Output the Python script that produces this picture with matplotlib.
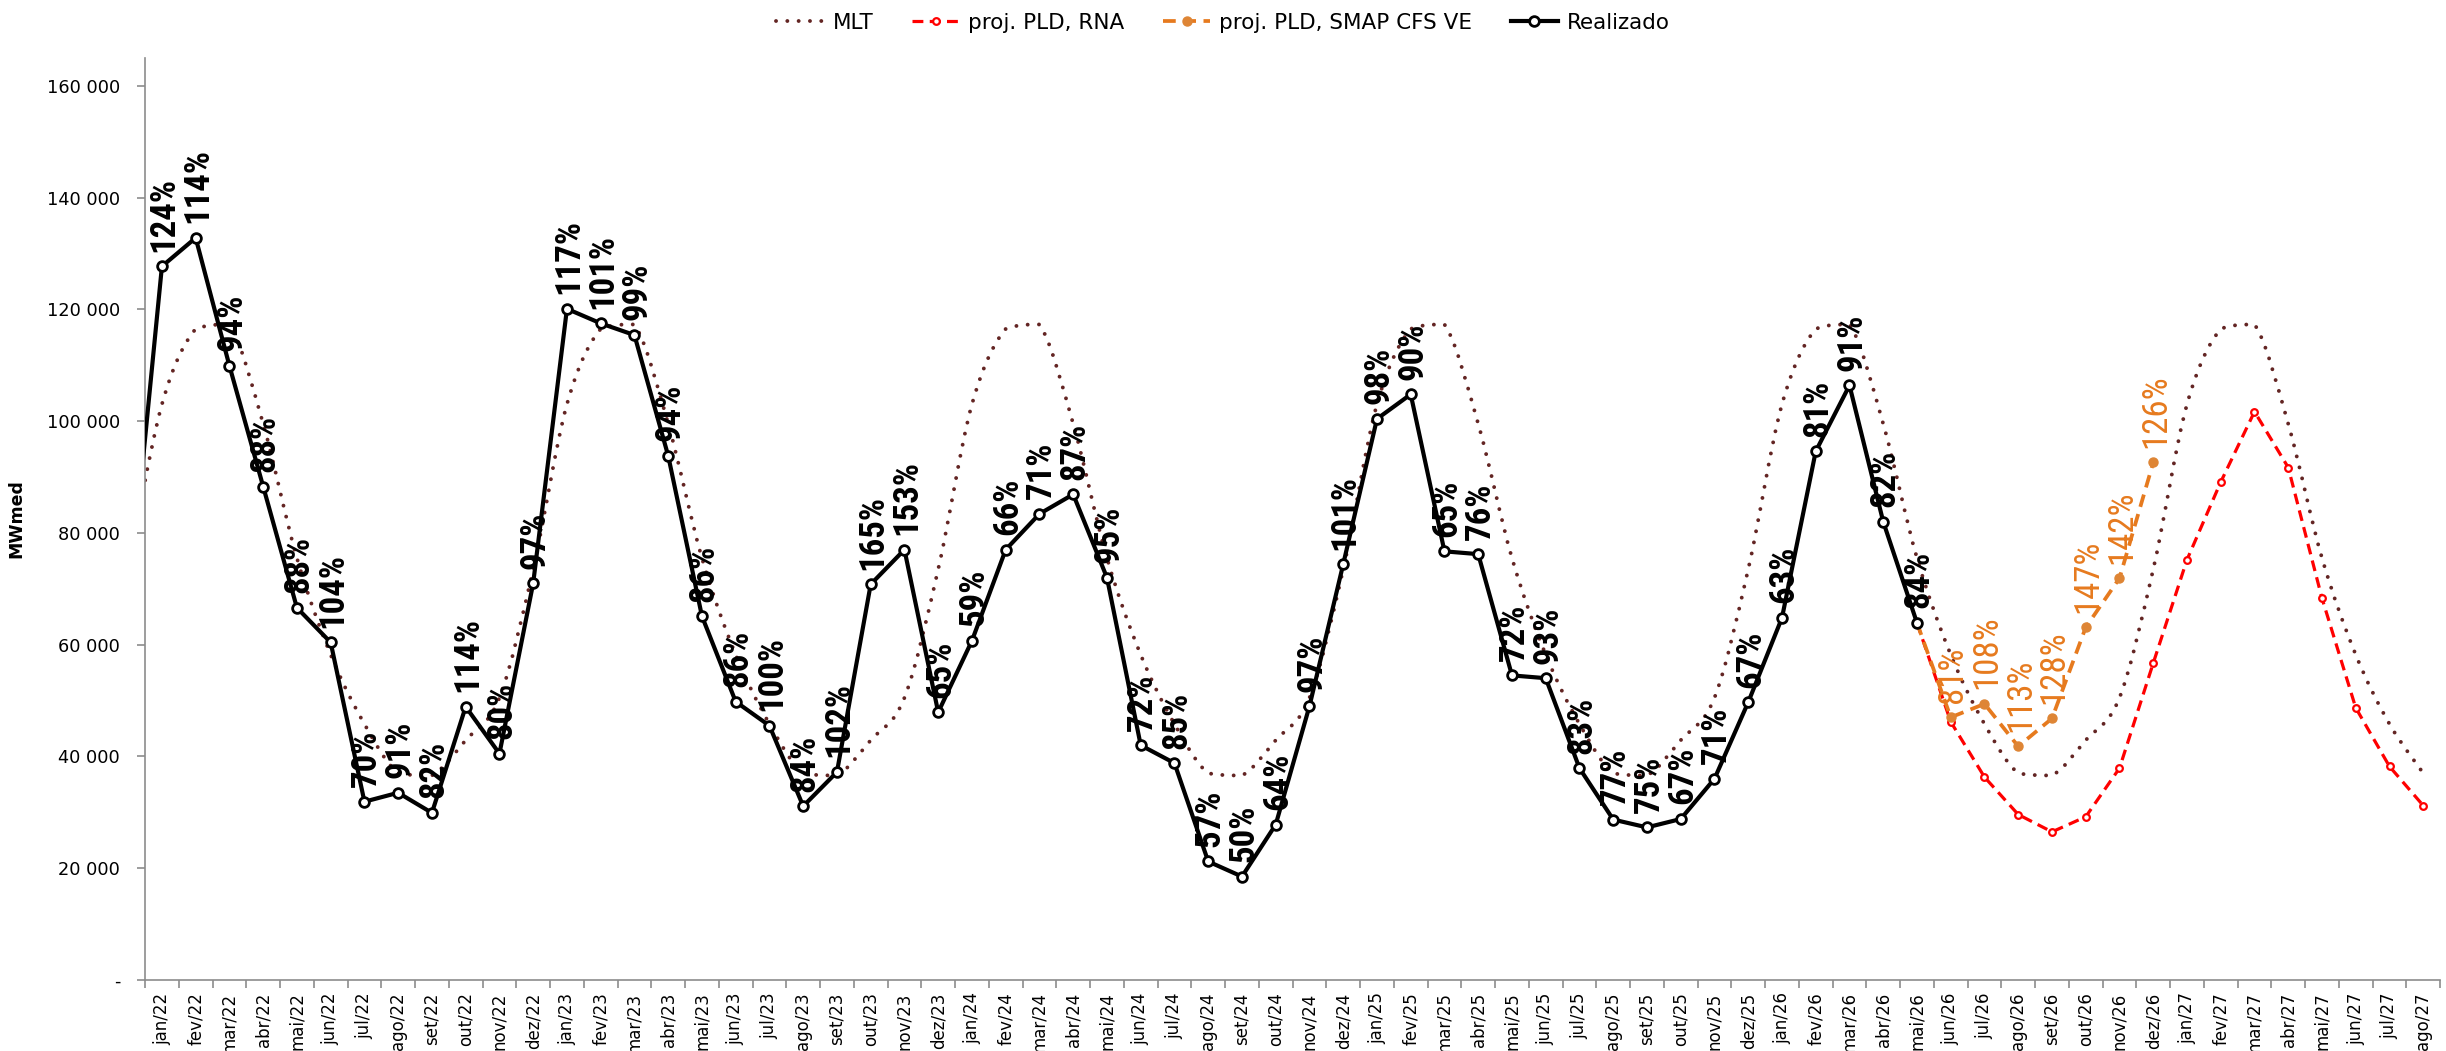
import numpy as np
import matplotlib
matplotlib.use("Agg")
import matplotlib.pyplot as plt
from matplotlib.path import Path
from matplotlib.patches import PathPatch
from matplotlib.lines import Line2D
from matplotlib.ticker import FuncFormatter

# === DADOS ===
meses = ["jan", "fev", "mar", "abr", "mai", "jun", "jul", "ago", "set", "out", "nov", "dez"]
rotulos = [f"{m}/{a}" for a in range(22, 28) for m in meses][:68]   # jan/22 .. ago/27

# MLT (MWmed), dez/21 .. ago/27
mlt = [73500,
       103000, 116500, 117300, 99500, 75500, 58200, 45800, 37000, 36600, 42900, 50500, 73500,
       103000, 116500, 117300, 99500, 75500, 58200, 45800, 37000, 36600, 42900, 50500, 73500,
       103000, 116500, 117300, 99500, 75500, 58200, 45800, 37000, 36600, 42900, 50500, 73500,
       103000, 116500, 117300, 99500, 75500, 58200, 45800, 37000, 36600, 42900, 50500, 73500,
       103000, 116500, 117300, 99500, 75500, 58200, 45800, 37000, 36600, 42900, 50500, 73500,
       103000, 116500, 117300, 99500, 75500, 58200, 45800, 37000]

# Realizado, dez/21 .. mai/26
realizado = [66000,
             127700, 132800, 109900, 88300, 66600, 60400, 31900, 33500, 29900, 48900, 40500, 71000,
             120100, 117500, 115400, 93800, 65100, 49800, 45500, 31100, 37200, 70800, 77000, 47900,
             60700, 77000, 83400, 86900, 72000, 42000, 38800, 21200, 18500, 27800, 49000, 74400,
             100400, 104800, 76700, 76200, 54500, 54000, 37900, 28700, 27300, 28800, 36000, 49700,
             64800, 94600, 106400, 82000, 63900]

# % da MLT, jan/22 .. mai/26
pct_realizado = [124, 114, 94, 88, 88, 104, 70, 91, 82, 114, 80, 97,
                 117, 101, 99, 94, 86, 86, 100, 84, 102, 165, 153, 65,
                 59, 66, 71, 87, 95, 72, 85, 57, 50, 64, 97, 101,
                 98, 90, 65, 76, 72, 93, 83, 77, 75, 67, 71, 67,
                 63, 81, 91, 82, 84]

# proj. PLD, RNA: mai/26 .. ago/27
proj_rna = [63900, 46200, 36300, 29600, 26500, 29200, 37900, 56700,
            75200, 89100, 101700, 91700, 68300, 48700, 38200, 31200]

# proj. PLD, SMAP CFS VE: mai/26 .. dez/26
proj_smap = [63900, 47000, 49400, 41800, 46800, 63100, 71900, 92600]
pct_smap = [81, 108, 113, 128, 147, 142, 126]   # jun/26 .. dez/26

x_mlt = np.arange(-1, len(mlt) - 1)
x_real = np.arange(-1, len(realizado) - 1)
x_rna = np.arange(52, 52 + len(proj_rna))
x_smap = np.arange(52, 52 + len(proj_smap))

cor_mlt = "#632523"
cor_rna = "#FF0000"
cor_smap = "#E67A1E"
cor_eixo = "#8C8C8C"
fonte_rotulo = ["Roboto Condensed", "Roboto", "DejaVu Sans"]


def curva_suave(x, y):
    # linha suavizada (bezier) passando pelos pontos, sem ultrapassar os pontos
    pts = np.column_stack([x, y]).astype(float)
    n = len(pts)
    verts = [pts[0]]
    codes = [Path.MOVETO]
    for i in range(n - 1):
        p0 = pts[max(i - 1, 0)]
        p1 = pts[i]
        p2 = pts[i + 1]
        p3 = pts[min(i + 2, n - 1)]
        c1 = p1 + (p2 - p0) / 6
        c2 = p2 - (p3 - p1) / 6
        lo, hi = min(p1[1], p2[1]), max(p1[1], p2[1])
        c1[1] = np.clip(c1[1], lo, hi)
        c2[1] = np.clip(c2[1], lo, hi)
        verts += [c1, c2, p2]
        codes += [Path.CURVE4] * 3
    return Path(verts, codes)


fig = plt.figure(figsize=(24.46, 10.51), dpi=100)
ax = fig.add_axes([0.0593, 0.0676, 0.9383, 0.8773])

ax.add_patch(PathPatch(curva_suave(x_mlt, mlt), fill=False, zorder=2,
                       edgecolor=cor_mlt, linewidth=2.8, linestyle=(0, (0.01, 2.9)),
                       capstyle="round"))
h_mlt = Line2D([], [], color=cor_mlt, linewidth=2.8, linestyle=(0, (0.01, 2.9)),
               dash_capstyle="round")

h_rna, = ax.plot(x_rna, proj_rna, color=cor_rna, linewidth=2.3, linestyle=(0, (3.4, 2.0)),
                 marker="o", markersize=4.8, markerfacecolor="white",
                 markeredgecolor=cor_rna, markeredgewidth=1.6, zorder=3)
h_smap, = ax.plot(x_smap, proj_smap, color=cor_smap, linewidth=2.7, linestyle=(0, (3.4, 2.0)),
                  marker="o", markersize=6.5, markerfacecolor="#DE8535",
                  markeredgecolor="#DE8535", zorder=4)
h_real, = ax.plot(x_real, realizado, color="black", linewidth=3.0, marker="o",
                  markersize=7, markerfacecolor="white", markeredgecolor="black",
                  markeredgewidth=2.0, zorder=5)

# rotulos de % da MLT
for xi, yi, p in zip(x_real[1:], realizado[1:], pct_realizado):
    ax.annotate(f"{p}%", (xi, yi), xytext=(1.5, 10.5), textcoords="offset points",
                rotation=90, ha="center", va="bottom", fontsize=25, fontweight="bold",
                family=fonte_rotulo, fontstretch="condensed", color="black", zorder=10)
for xi, yi, p in zip(x_smap[1:], proj_smap[1:], pct_smap):
    ax.annotate(f"{p}%", (xi, yi), xytext=(1.5, 10.5), textcoords="offset points",
                rotation=90, ha="center", va="bottom", fontsize=25,
                family=fonte_rotulo, fontstretch="condensed", color=cor_smap, zorder=10)

ax.set_xlim(-0.5, 67.5)
ax.set_ylim(0, 165000)

ax.set_xticks(np.arange(len(rotulos)))
ax.set_xticklabels(rotulos, rotation=90, fontsize=12)
ax.set_xticks(np.arange(len(rotulos) + 1) - 0.5, minor=True)
ax.tick_params(axis="x", which="major", length=0, pad=9)
ax.tick_params(axis="x", which="minor", length=6, width=1.2, color=cor_eixo, direction="out")

ax.set_yticks(np.arange(0, 160001, 20000))
ax.yaxis.set_major_formatter(FuncFormatter(
    lambda v, pos: "-" if v == 0 else f"{int(v):,}".replace(",", " ")))
ax.tick_params(axis="y", length=6, width=1.2, color=cor_eixo, labelsize=12.8, pad=12)

for lado in ["top", "right"]:
    ax.spines[lado].set_visible(False)
for lado in ["left", "bottom"]:
    ax.spines[lado].set_color(cor_eixo)
    ax.spines[lado].set_linewidth(1.2)

ax.set_ylabel("MWmed", fontsize=12.5, fontweight="bold")
ax.yaxis.set_label_coords(-0.052, 0.5)

fig.legend([h_mlt, h_rna, h_smap, h_real],
           ["MLT", "proj. PLD, RNA", "proj. PLD, SMAP CFS VE", "Realizado"],
           loc="center", bbox_to_anchor=(0.5, 1 - 23 / 1051), ncol=4, frameon=False,
           fontsize=15.5, handlelength=2.2, handletextpad=0.4, columnspacing=1.8)

plt.savefig("out.png", dpi=100)
